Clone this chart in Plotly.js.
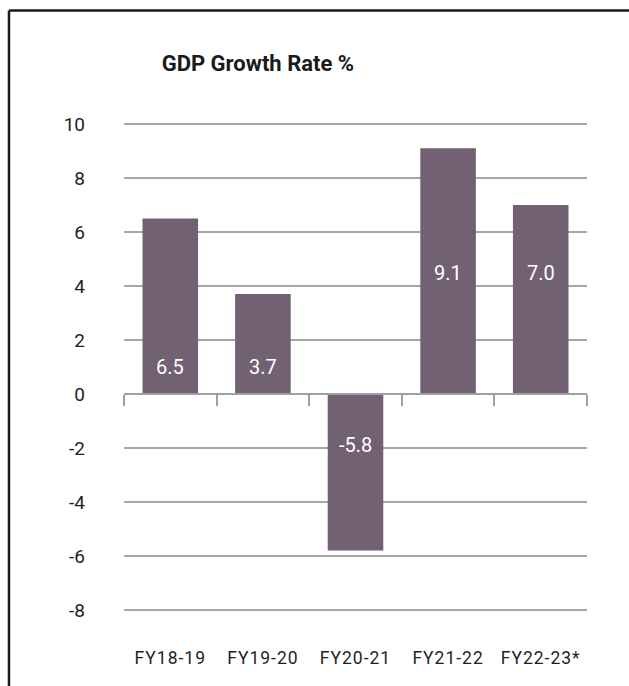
<!DOCTYPE html>
<html>
<head>
<meta charset="utf-8">
<script src="https://cdn.plot.ly/plotly-3.0.1.min.js"></script>
<style>
html,body{margin:0;padding:0;background:#fff;}
#chart{width:629px;height:686px;}
#chart .xtick text{letter-spacing:1px;}
#chart .title{letter-spacing:0.5px;}
</style>
</head>
<body>
<div id="chart"></div>
<script>
const categories = ["FY18-19", "FY19-20", "FY20-21", "FY21-22", "FY22-23*"];
const growthRate = [6.5, 3.7, -5.8, 9.1, 7.0];
const yTickValues = [-8, -6, -4, -2, 0, 2, 4, 6, 8, 10];
const yTickLabels = ["-8", "-6", "-4", "-2", "0", "2", "4", "6", "8", "10"];

const FONT = "Roboto, 'Open Sans', sans-serif";
const barColor = "#716173";

const barTrace = {
  type: "bar",
  x: categories,
  y: growthRate,
  marker: { color: barColor },
  hoverinfo: "skip",
  showlegend: false
};

const boundaryTrace = {
  type: "scatter",
  mode: "markers",
  x: [],
  y: [],
  xaxis: "x2",
  yaxis: "y",
  showlegend: false,
  hoverinfo: "skip"
};

// label anchors (value-axis units) as placed in the original
const labelAnchor = [1, 1, -1.9, 4.5, 4.5];
const annotations = categories.map((c, i) => ({
  x: c, y: labelAnchor[i], xref: "x", yref: "y",
  text: growthRate[i].toFixed(1),
  showarrow: false,
  font: { family: FONT, size: 20, color: "#ffffff" }
}));

const layout = {
  width: 629, height: 686,
  paper_bgcolor: "#ffffff", plot_bgcolor: "#ffffff",
  margin: { l: 124, r: 42, t: 123, b: 75 },
  title: {
    text: "<b>GDP Growth Rate %</b>",
    font: { family: FONT, size: 22, color: "#1a1a1a" },
    xref: "container", yref: "container",
    x: 0.41, xanchor: "center", y: 0.908, yanchor: "middle"
  },
  bargap: 0.4,
  xaxis: {
    type: "category",
    range: [-0.5, 4.5],
    showgrid: false, zeroline: false, showline: false,
    ticks: "",
    ticklabelstandoff: 34,
    tickfont: { family: FONT, size: 17.5, color: "#1f1f1f" },
    fixedrange: true
  },
  xaxis2: {
    overlaying: "x",
    anchor: "free",
    position: 8.04 / 18.08,
    range: [-0.5, 4.5],
    showline: true, linecolor: "#a0a0a0", linewidth: 2,
    ticks: "outside", ticklen: 11, tickwidth: 2, tickcolor: "#a0a0a0",
    tickmode: "array", tickvals: [-0.5, 0.5, 1.5, 2.5, 3.5, 4.5],
    showticklabels: false, showgrid: false, zeroline: false,
    fixedrange: true
  },
  yaxis: {
    range: [-8.04, 10.04],
    tickmode: "array", tickvals: yTickValues, ticktext: yTickLabels,
    showgrid: true, gridcolor: "#a6a6a6", gridwidth: 2,
    zeroline: false, showline: false, ticks: "",
    ticklabelstandoff: 38,
    tickfont: { family: FONT, size: 19, color: "#1f1f1f" },
    fixedrange: true
  },
  shapes: [
    { type: "line", xref: "paper", yref: "paper",
      x0: -0.2484, x1: 1.2, y0: 1.2305, y1: 1.2305,
      line: { color: "#1a1a1a", width: 2.5 } },
    { type: "line", xref: "paper", yref: "paper",
      x0: -0.2484, x1: -0.2484, y0: 1.2305, y1: -0.2,
      line: { color: "#1a1a1a", width: 2.5 } }
  ],
  annotations: annotations
};

Plotly.newPlot("chart", [barTrace, boundaryTrace], layout, { displayModeBar: false, staticPlot: true });
</script>
</body>
</html>
